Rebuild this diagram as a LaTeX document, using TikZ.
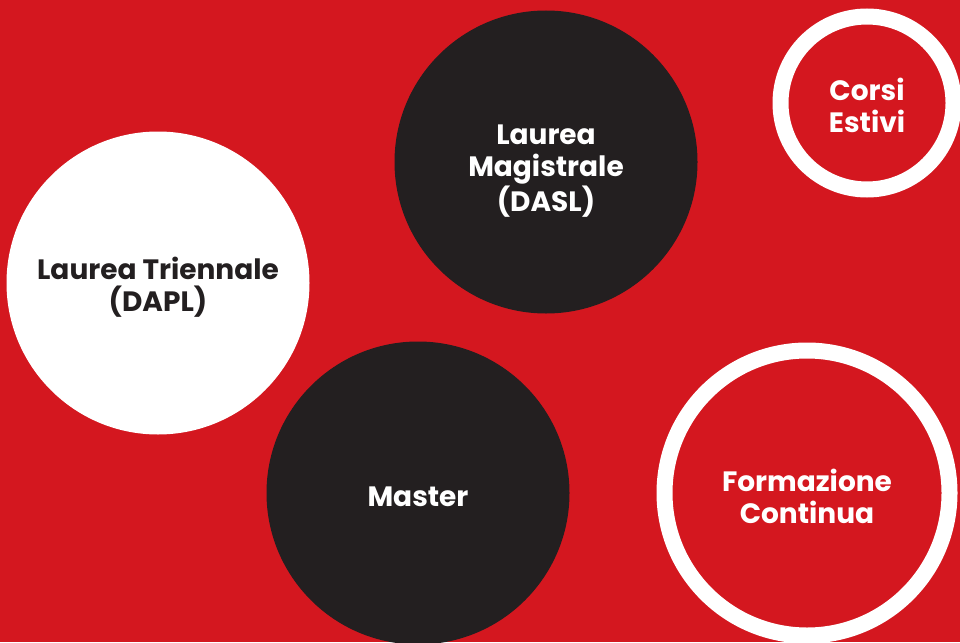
\documentclass[tikz,border=0pt]{standalone}
\usepackage{fontspec}
\setmainfont{Poppins}
\usetikzlibrary{shapes}
\definecolor{rosso}{HTML}{D4171F}
\definecolor{nero}{HTML}{231F20}

\begin{document}
\begin{tikzpicture}[x=1pt, y=-1pt,
    disco/.style={circle, inner sep=0pt, outer sep=0pt},
    anello/.style={disco, fill=rosso, draw=white, line width=16pt},
    testo/.style={align=center, inner sep=0pt, font=\bfseries\fontsize{28}{32}\selectfont}]
                    \fill[rosso] (0,0) rectangle (960,642);
                    \useasboundingbox (0,0) rectangle (960,642);

                    \node[disco, minimum size=303pt, fill=white,
                          label={[testo, text=nero, yshift=-4pt]center:Laurea Triennale\\(DAPL)}] (triennale) at (158,283) {};
                    \node[disco, minimum size=303pt, fill=nero,
                          label={[testo, text=white, yshift=-9pt]center:Laurea\\Magistrale\\(DASL)}] (magistrale) at (546,162) {};
                    \node[disco, minimum size=303pt, fill=nero,
                          label={[testo, text=white, yshift=-4pt]center:Master}] (master) at (418,493) {};
                    \node[anello, minimum size=173pt,
                          label={[testo, text=white, yshift=-2pt]center:Corsi\\Estivi}] (estivi) at (867,103) {};
                    \node[anello, minimum size=285pt,
                          label={[testo, text=white, yshift=-3pt]center:Formazione\\Continua}] (continua) at (807,493) {};
                \end{tikzpicture}
\end{document}
